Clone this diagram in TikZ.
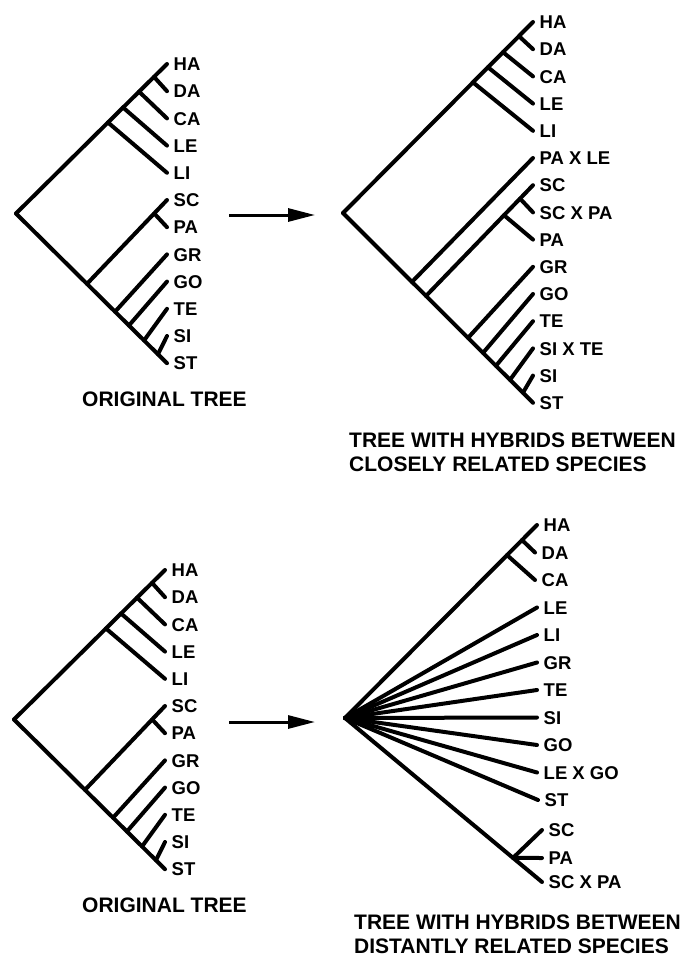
\documentclass[tikz,border=0pt]{standalone}
\usepackage{fontspec}
\setmainfont{Liberation Sans}
\usetikzlibrary{calc,arrows.meta}

\tikzset{
  branch/.style={line width=4pt, line cap=round},
  taxon/.style={anchor=west, inner sep=0pt, text height=13.3pt, text depth=0pt,
                font=\bfseries\fontsize{18.5}{20}\selectfont},
  caption/.style={anchor=base west, inner sep=0pt,
                  font=\bfseries\fontsize{21}{24}\selectfont},
  flow/.style={line width=3pt, -{Triangle[length=27pt,width=13pt]}},
}

% original tree: #1 name prefix, #2/#3 shift
\newcommand\origtree[3]{%
\begin{scope}[shift={(#2,#3)}]
  \coordinate (#1root) at (16,213.5);
  \foreach \n/\t [count=\i from 0] in
      {ha/HA,da/DA,ca/CA,le/LE,li/LI,sc/SC,pa/PA,gr/GR,go/GO,te/TE,si/SI,st/ST}{
    \coordinate (#1\n) at (167,{64+27.2*\i});
    \node[taxon] (#1\n lbl) at ([xshift=6.5pt]#1\n) {\t};
  }
  \draw[branch] (#1root) -- (#1ha);
  \draw[branch] (#1root) -- (#1st);
  % upper clade
  \foreach \n/\f in {da/.914,ca/.815,le/.709,li/.609}{
    \coordinate (#1b\n) at ($(#1root)!\f!(#1ha)$);
    \draw[branch] (#1b\n) -- (#1\n);
  }
  % SC + PA pair
  \coordinate (#1bsc) at ($(#1root)!.47!(#1st)$);
  \draw[branch] (#1bsc) -- (#1sc);
  \coordinate (#1bpa) at ($(#1bsc)!.84!(#1sc)$);
  \draw[branch] (#1bpa) -- (#1pa);
  % lower ladder
  \foreach \n/\f in {gr/.656,go/.748,te/.848,si/.94}{
    \coordinate (#1b\n) at ($(#1root)!\f!(#1st)$);
    \draw[branch] (#1b\n) -- (#1\n);
  }
\end{scope}}

\begin{document}
\begin{tikzpicture}[x=1pt,y=-1pt]
\useasboundingbox (0,0) rectangle (696,958);

% ---------- left column: the original tree, twice ----------
\origtree{o}{0}{0}
\origtree{p}{-2}{506}
\node[caption] (ocap) at (82,406) {ORIGINAL TREE};
\node[caption] (pcap) at (82,912) {ORIGINAL TREE};

% ---------- arrows ----------
\coordinate (a1s) at (229,215);
\coordinate (a1e) at (315,215);
\draw[flow] (a1s) -- (a1e);
\coordinate (a2s) at (229,722);
\coordinate (a2e) at (315,722);
\draw[flow] (a2s) -- (a2e);

% ---------- tree with hybrids between close relatives ----------
\coordinate (hroot) at (343,213);
\foreach \n/\t [count=\i from 0] in
    {ha/HA,da/DA,ca/CA,le/LE,li/LI,pale/PA X LE,sc/SC,scpa/SC X PA,pa/PA,
     gr/GR,go/GO,te/TE,site/SI X TE,si/SI,st/ST}{
  \coordinate (h\n) at (533,{22+27.2*\i});
  \node[taxon] (h\n lbl) at ([xshift=6.5pt]h\n) {\t};
}
\draw[branch] (hroot) -- (hha);
\draw[branch] (hroot) -- (hst);
\foreach \n/\f in {da/.926,ca/.842,le/.763,li/.684}{
  \coordinate (hb\n) at ($(hroot)!\f!(hha)$);
  \draw[branch] (hb\n) -- (h\n);
}
\coordinate (hbpale) at ($(hroot)!.363!(hst)$);
\draw[branch] (hbpale) -- (hpale);
\coordinate (hbsc) at ($(hroot)!.437!(hst)$);
\draw[branch] (hbsc) -- (hsc);
\coordinate (hbscpa) at ($(hbsc)!.879!(hsc)$);
\draw[branch] (hbscpa) -- (hscpa);
\coordinate (hbpa) at ($(hbsc)!.729!(hsc)$);
\draw[branch] (hbpa) -- (hpa);
\foreach \n/\f in {gr/.658,go/.737,te/.805,site/.879,si/.947}{
  \coordinate (hb\n) at ($(hroot)!\f!(hst)$);
  \draw[branch] (hb\n) -- (h\n);
}
\node[caption] (hcapa) at (349,447) {TREE WITH HYBRIDS BETWEEN};
\node[caption] (hcapb) at (349,471) {CLOSELY RELATED SPECIES};

% ---------- tree with hybrids between distant relatives ----------
\coordinate (droot) at (345,718);
\foreach \n/\t/\x/\y in
    {ha/HA/537/525,da/DA/535/552.5,ca/CA/535/580,le/LE/537/607.5,
     li/LI/537/635,gr/GR/537/662.5,te/TE/537/690,si/SI/537/717.5,
     go/GO/537/745,lego/LE X GO/537/772.5,st/ST/538/800,
     sc/SC/542/830,pa/PA/542/858,scpa/SC X PA/542/882}{
  \coordinate (d\n) at (\x,\y);
  \node[taxon] (d\n lbl) at ([xshift=6.5pt]d\n) {\t};
}
\draw[branch] (droot) -- (dha);
\coordinate (dbda) at ($(droot)!.922!(dha)$);
\draw[branch] (dbda) -- (dda);
\coordinate (dbca) at ($(droot)!.844!(dha)$);
\draw[branch] (dbca) -- (dca);
\foreach \n in {le,li,gr,te,si,go,lego,st}{
  \draw[branch] (droot) -- (d\n);
}
\draw[branch] (droot) -- (dscpa);
\coordinate (dbsc) at ($(droot)!.853!(dscpa)$);
\draw[branch] (dbsc) -- (dsc);
\draw[branch] (dbsc) -- (dpa);
\node[caption] (dcapa) at (354,929) {TREE WITH HYBRIDS BETWEEN};
\node[caption] (dcapb) at (354,953) {DISTANTLY RELATED SPECIES};
\end{tikzpicture}
\end{document}
